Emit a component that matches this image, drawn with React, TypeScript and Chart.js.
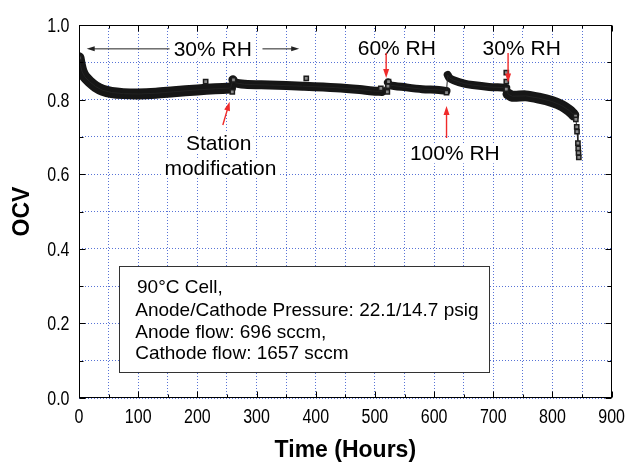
import React, { useEffect, useRef } from 'react';
import { Chart, registerables } from 'chart.js';

Chart.register(...registerables);

// ---- axis ticks ----
const xTickValues = [0, 100, 200, 300, 400, 500, 600, 700, 800, 900];
const xTickLabels = ['0', '100', '200', '300', '400', '500', '600', '700', '800', '900'];
const yTickValues = [0, 0.2, 0.4, 0.6, 0.8, 1.0];
const yTickLabels = ['0.0', '0.2', '0.4', '0.6', '0.8', '1.0'];

// ---- OCV data (hours, volts) ----
// 30% RH initial period
const segAHours = [0, 2, 5, 10, 18, 28, 40, 55, 75, 100, 130, 160, 200, 230, 256];
const segAOcv = [0.912, 0.895, 0.876, 0.861, 0.848, 0.835, 0.825, 0.819, 0.816, 0.815, 0.817, 0.821, 0.826, 0.829, 0.831];
// after station modification
const segBHours = [260, 264, 280, 322, 378, 434, 474, 496, 512];
const segBOcv = [0.853, 0.845, 0.841, 0.839, 0.836, 0.832, 0.827, 0.823, 0.822];
// 60% RH
const segCHours = [522, 525, 552, 580, 608, 621];
const segCOcv = [0.846, 0.839, 0.833, 0.828, 0.826, 0.823];
// 100% RH
const segDHours = [623, 626, 633, 651, 665, 693, 718, 722];
const segDOcv = [0.866, 0.858, 0.852, 0.843, 0.839, 0.834, 0.832, 0.831];
// back to 30% RH
const segEHours = [725, 732, 755, 777, 799, 816, 828, 836];
const segEOcv = [0.815, 0.809, 0.81, 0.804, 0.795, 0.784, 0.771, 0.759];
// end-of-test drop
const tailHours = [839, 839.5, 841, 841.5, 843, 843.5, 844, 844.5];
const tailOcv = [0.756, 0.747, 0.727, 0.714, 0.683, 0.669, 0.657, 0.645];
// individually visible markers
const markerHours = [0, 214, 259, 261, 384, 510, 521, 522, 523, 621, 722, 722, 722];
const markerOcv = [0.912, 0.848, 0.821, 0.853, 0.857, 0.83, 0.821, 0.836, 0.848, 0.819, 0.872, 0.848, 0.828];

const segmentHours = [segAHours, segBHours, segCHours, segDHours, segEHours];
const segmentOcv = [segAOcv, segBOcv, segCOcv, segDOcv, segEOcv];
const bandWidths = [11, 9, 8, 8, 11];

// ---- annotations (in data coordinates) ----
const annotationLabels = [
  { text: '30% RH', x: 226, y: 0.936 },
  { text: '60% RH', x: 537, y: 0.938 },
  { text: '30% RH', x: 748, y: 0.938 },
  { text: '100% RH', x: 635, y: 0.656 },
  { text: 'Station', x: 236, y: 0.684 },
  { text: 'modification', x: 239, y: 0.617 },
];
const blackArrows = [
  { from: [153, 0.936], to: [13, 0.936] },
  { from: [310, 0.936], to: [372, 0.936] },
];
const redArrows = [
  { from: [519, 0.925], to: [519, 0.858] },
  { from: [725, 0.925], to: [725, 0.846] },
  { from: [621, 0.697], to: [621, 0.783] },
  { from: [243, 0.732], to: [254.5, 0.794] },
];
const infoLines = [
  '90\u00B0C Cell,',
  'Anode/Cathode Pressure: 22.1/14.7 psig',
  'Anode flow: 696 sccm,',
  'Cathode flow: 1657 sccm',
];
const infoBox = { left: 68, right: 693, top: 0.355, bottom: 0.0705, textX: [98, 95, 95, 95], textY: [0.298, 0.236, 0.178, 0.121] };

const SANS = '"Liberation Sans", Arial, Helvetica, sans-serif';
const GRID = 'rgba(70, 100, 210, 0.9)';

function drawArrow(ctx: CanvasRenderingContext2D, x1: number, y1: number, x2: number, y2: number, color: string, lw: number, hl: number, hw: number) {
  const ang = Math.atan2(y2 - y1, x2 - x1);
  const c = Math.cos(ang), s = Math.sin(ang);
  ctx.strokeStyle = color;
  ctx.fillStyle = color;
  ctx.lineWidth = lw;
  ctx.beginPath();
  ctx.moveTo(x1, y1);
  ctx.lineTo(x2 - c * hl * 0.7, y2 - s * hl * 0.7);
  ctx.stroke();
  ctx.beginPath();
  ctx.moveTo(x2, y2);
  ctx.lineTo(x2 - c * hl - s * hw / 2, y2 - s * hl + c * hw / 2);
  ctx.lineTo(x2 - c * hl + s * hw / 2, y2 - s * hl - c * hw / 2);
  ctx.closePath();
  ctx.fill();
}

// condensed tick-label text (the original uses a narrow face)
function narrowText(ctx: CanvasRenderingContext2D, text: string, x: number, y: number, align: 'left' | 'center' | 'right') {
  ctx.save();
  ctx.translate(x, y);
  ctx.scale(0.8, 1);
  ctx.textAlign = align;
  ctx.textBaseline = 'alphabetic';
  ctx.fillText(text, 0, 0);
  ctx.restore();
}

const overlayPlugin = {
  id: 'overlay',
  afterDatasetsDraw(chart: any) {
    const { ctx, chartArea: a, scales } = chart;
    const xs = scales.x, ys = scales.y;
    const px = (v: number) => xs.getPixelForValue(v);
    const py = (v: number) => ys.getPixelForValue(v);
    ctx.save();

    // frame
    const L = Math.round(a.left) + 0.5, R = Math.round(a.right) - 0.5;
    const T = Math.round(a.top) + 0.5, B = Math.round(a.bottom) - 0.5;
    ctx.strokeStyle = '#000';
    ctx.lineWidth = 1;
    ctx.strokeRect(L, T, R - L, B - T);
    // inward ticks
    ctx.beginPath();
    for (let t = 0; t <= 900; t += 50) {
      const x = Math.round(px(t)) + 0.5;
      const len = t % 100 === 0 ? 6 : 3;
      ctx.moveTo(x, B); ctx.lineTo(x, B - len);
      ctx.moveTo(x, T); ctx.lineTo(x, T + len);
    }
    for (let i = 0; i <= 10; i++) {
      const y = Math.round(py(i / 10)) + 0.5;
      const len = i % 2 === 0 ? 6 : 4;
      ctx.moveTo(L, y); ctx.lineTo(L + len, y);
      ctx.moveTo(R, y); ctx.lineTo(R - len, y);
    }
    ctx.stroke();

    // tick labels
    ctx.fillStyle = '#000';
    ctx.font = '20px ' + SANS;
    xTickValues.forEach((v, i) => narrowText(ctx, xTickLabels[i], px(v), a.bottom + 25, 'center'));
    yTickValues.forEach((v, i) => narrowText(ctx, yTickLabels[i], a.left - 9.5, py(v) + 7, 'right'));

    // text labels with white backing
    ctx.font = '21px ' + SANS;
    ctx.textAlign = 'center';
    ctx.textBaseline = 'middle';
    for (const lb of annotationLabels) {
      const w = ctx.measureText(lb.text).width;
      const x = px(lb.x), y = py(lb.y);
      ctx.fillStyle = '#fff';
      ctx.fillRect(x - w / 2 - 2, y - 10, w + 4, 20);
      ctx.fillStyle = '#000';
      ctx.fillText(lb.text, x, y + 1);
    }

    for (const ar of blackArrows) {
      drawArrow(ctx, px(ar.from[0]), py(ar.from[1]), px(ar.to[0]), py(ar.to[1]), '#222', 1, 8, 5);
    }
    for (const ar of redArrows) {
      drawArrow(ctx, px(ar.from[0]), py(ar.from[1]), px(ar.to[0]), py(ar.to[1]), '#f02a2a', 1.4, 9, 6);
    }

    // info box
    const bl = Math.round(px(infoBox.left)) + 0.5, br = Math.round(px(infoBox.right)) + 0.5;
    const bt = Math.round(py(infoBox.top)) + 0.5, bb = Math.round(py(infoBox.bottom)) + 0.5;
    ctx.fillStyle = '#fff';
    ctx.fillRect(bl, bt, br - bl, bb - bt);
    ctx.strokeStyle = '#333';
    ctx.lineWidth = 1;
    ctx.strokeRect(bl, bt, br - bl, bb - bt);
    ctx.fillStyle = '#000';
    ctx.font = '19px ' + SANS;
    ctx.textAlign = 'left';
    infoLines.forEach((line, i) => {
      ctx.fillText(line, px(infoBox.textX[i]), py(infoBox.textY[i]) + 1);
    });
    ctx.restore();
  },
};

export default function App() {
  const ref = useRef<HTMLCanvasElement>(null);
  useEffect(() => {
    if (!ref.current) return;
    const lineData: any[] = [];
    segmentHours.forEach((hrs, si) => {
      hrs.forEach((h, i) => lineData.push({ x: h, y: segmentOcv[si][i] }));
    });
    tailHours.forEach((h, i) => lineData.push({ x: h, y: tailOcv[i] }));

    const bandSets = segmentHours.map((hrs, si) => ({
      type: 'line' as const,
      label: 'band' + si,
      data: hrs.map((h, i) => ({ x: h, y: segmentOcv[si][i] })),
      borderColor: '#161616',
      borderWidth: bandWidths[si],
      borderJoinStyle: 'round' as const,
      borderCapStyle: 'round' as const,
      pointRadius: 0,
      tension: 0.3,
      clip: 0,
      order: 3,
    }));

    const chart = new Chart(ref.current, {
      type: 'line',
      data: {
        datasets: [
          {
            type: 'scatter' as any,
            label: 'markers',
            data: [
              ...markerHours.map((h, i) => ({ x: h, y: markerOcv[i] })),
              ...tailHours.map((h, i) => ({ x: h, y: tailOcv[i] })),
            ],
            pointStyle: 'rect',
            pointRadius: 3,
            backgroundColor: '#8a8a8a',
            borderColor: '#1c1c1c',
            borderWidth: 1.5,
            showLine: false,
            order: 0,
          },
          {
            label: 'thin',
            data: lineData,
            borderColor: '#222',
            borderWidth: 1,
            pointRadius: 0,
            clip: 0,
            order: 1,
          },
          ...bandSets,
        ] as any,
      },
      options: {
        animation: false,
        responsive: true,
        maintainAspectRatio: false,
        layout: { padding: { top: 25, right: 17, left: 0, bottom: 0 } },
        plugins: { legend: { display: false }, tooltip: { enabled: false } },
        scales: {
          x: {
            type: 'linear',
            min: 0,
            max: 900,
            afterFit: (s: any) => { s.height = 66; },
            grid: { color: GRID, lineWidth: 1, drawTicks: false },
            border: { display: false, dash: [1, 2] },
            ticks: {
              stepSize: 50,
              autoSkip: false,
              maxRotation: 0,
              padding: 5,
              color: 'rgba(0,0,0,0)',
              font: { family: SANS, size: 16 },
              callback: (v: any) => {
                const i = xTickValues.findIndex((t) => Math.abs(t - v) < 1e-6);
                return i >= 0 ? xTickLabels[i] : '';
              },
            },
            title: {
              display: true,
              text: 'Time (Hours)',
              color: '#000',
              font: { family: SANS, size: 23, weight: 'bold' },
              padding: { top: 0, bottom: 0 },
            },
          },
          y: {
            type: 'linear',
            min: 0,
            max: 1,
            afterFit: (s: any) => { s.width = 79; },
            grid: { color: GRID, lineWidth: 1, drawTicks: false },
            border: { display: false, dash: [1, 2] },
            ticks: {
              stepSize: 0.1,
              autoSkip: false,
              padding: 10,
              color: 'rgba(0,0,0,0)',
              font: { family: SANS, size: 16 },
              callback: (v: any) => {
                const i = yTickValues.findIndex((t) => Math.abs(t - v) < 1e-6);
                return i >= 0 ? yTickLabels[i] : '';
              },
            },
            title: {
              display: true,
              text: 'OCV',
              color: '#000',
              font: { family: SANS, size: 23, weight: 'bold' },
              padding: { top: 9, bottom: 0 },
            },
          },
        },
      } as any,
      plugins: [overlayPlugin],
    });
    return () => chart.destroy();
  }, []);

  return (
    <div style={{ position: 'fixed', left: 0, top: 0, width: 630, height: 464, background: '#fff' }}>
      <canvas ref={ref} />
    </div>
  );
}
